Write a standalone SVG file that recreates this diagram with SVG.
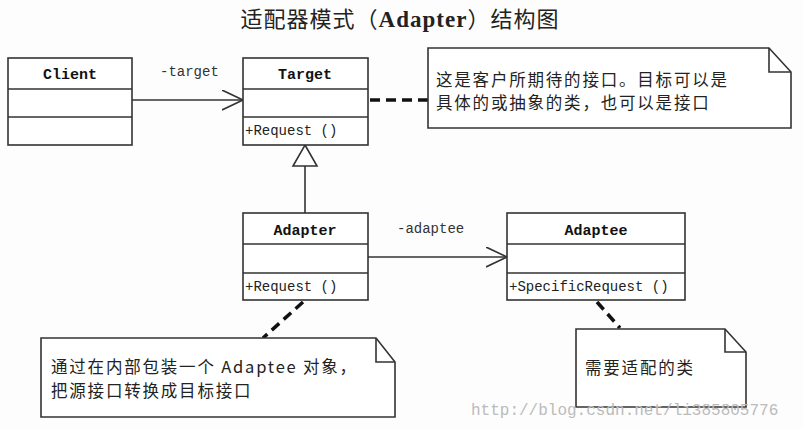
<svg xmlns="http://www.w3.org/2000/svg" width="803" height="429" viewBox="0 0 803 429">
<defs>
<style>
.box{fill:#fff;stroke:#333;stroke-width:1.6}
.ln{stroke:#333;stroke-width:1.6;fill:none}
.dash{stroke:#111;stroke-width:3.5;stroke-dasharray:10 6;fill:none}
.name{font-family:"Liberation Mono","Noto Sans CJK SC",monospace;font-size:15px;font-weight:bold;fill:#111;text-anchor:middle}
.op{font-family:"Liberation Mono","Noto Sans CJK SC",monospace;font-size:14px;fill:#222}
.lbl{font-family:"Liberation Mono","Noto Sans CJK SC",monospace;font-size:14px;fill:#333}
.note{font-family:"Noto Sans CJK SC",sans-serif;font-size:16.5px;letter-spacing:1.8px;fill:#222}
.title{font-family:"Noto Sans CJK SC",sans-serif;font-size:22px;letter-spacing:1px;fill:#222}
</style>
<marker id="open" markerWidth="24" markerHeight="24" refX="21" refY="10" orient="auto" markerUnits="userSpaceOnUse">
<path d="M0,0 L21,10 L0,20" fill="none" stroke="#333" stroke-width="1.6"/>
</marker>
</defs>
<rect width="803" height="429" fill="#fdfdfd"/>
<text class="title" x="400" y="27" text-anchor="middle">适配器模式（<tspan font-family="Liberation Serif,serif" font-weight="bold" font-size="23">Adapter</tspan>）结构图</text>

<g id="connectors">
<line class="ln" x1="132" y1="100" x2="243" y2="100" marker-end="url(#open)"/>
<text class="lbl" x="160" y="76">-target</text>
<line class="ln" x1="368" y1="257" x2="507" y2="257" marker-end="url(#open)"/>
<text class="lbl" x="397" y="233">-adaptee</text>
<line class="ln" x1="305" y1="166" x2="305" y2="213"/>
<path class="box" d="M305,145 L317,166 L293,166 Z"/>
<line class="dash" x1="370" y1="100" x2="428" y2="100"/>
<line class="dash" x1="303" y1="302" x2="263" y2="338"/>
<line class="dash" x1="597" y1="302" x2="620" y2="328"/>
</g>

<g id="client">
<rect class="box" x="8" y="58" width="124" height="87"/>
<line class="ln" x1="8" y1="89" x2="132" y2="89"/>
<line class="ln" x1="8" y1="117" x2="132" y2="117"/>
<text class="name" x="70" y="79">Client</text>
</g>

<g id="target">
<rect class="box" x="243" y="58" width="125" height="87"/>
<line class="ln" x1="243" y1="89" x2="368" y2="89"/>
<line class="ln" x1="243" y1="117" x2="368" y2="117"/>
<text class="name" x="305" y="79">Target</text>
<text class="op" x="245" y="135">+Request ()</text>
</g>

<g id="adapter">
<rect class="box" x="243" y="213" width="125" height="87"/>
<line class="ln" x1="243" y1="244" x2="368" y2="244"/>
<line class="ln" x1="243" y1="273" x2="368" y2="273"/>
<text class="name" x="305" y="235">Adapter</text>
<text class="op" x="245" y="291">+Request ()</text>
</g>

<g id="adaptee">
<rect class="box" x="507" y="213" width="178" height="87"/>
<line class="ln" x1="507" y1="244" x2="685" y2="244"/>
<line class="ln" x1="507" y1="273" x2="685" y2="273"/>
<text class="name" x="596" y="235">Adaptee</text>
<text class="op" x="509" y="291">+SpecificRequest ()</text>
</g>

<g id="note-target">
<path class="box" d="M428,48 L769,48 L791,72 L791,128 L428,128 Z"/>
<path class="ln" d="M769,48 L769,72 L791,72"/>
<text class="note" x="436" y="86">这是客户所期待的接口。目标可以是</text>
<text class="note" x="436" y="109">具体的或抽象的类，也可以是接口</text>
</g>

<g id="note-adapter">
<path class="box" d="M41,338 L376,338 L395,362 L395,417 L41,417 Z"/>
<path class="ln" d="M376,338 L376,362 L395,362"/>
<text class="note" x="51" y="373">通过在内部包装一个 Adaptee 对象，</text>
<text class="note" x="51" y="397">把源接口转换成目标接口</text>
</g>

<g id="note-adaptee">
<path class="box" d="M576,329 L725,329 L746,352 L746,407 L576,407 Z"/>
<path class="ln" d="M725,329 L725,352 L746,352"/>
<text class="note" x="585" y="374">需要适配的类</text>
</g>

<text x="471" y="415" font-family="Liberation Mono,monospace" font-size="16" fill="#bbb">http://blog.csdn.net/li385805776</text>
</svg>
